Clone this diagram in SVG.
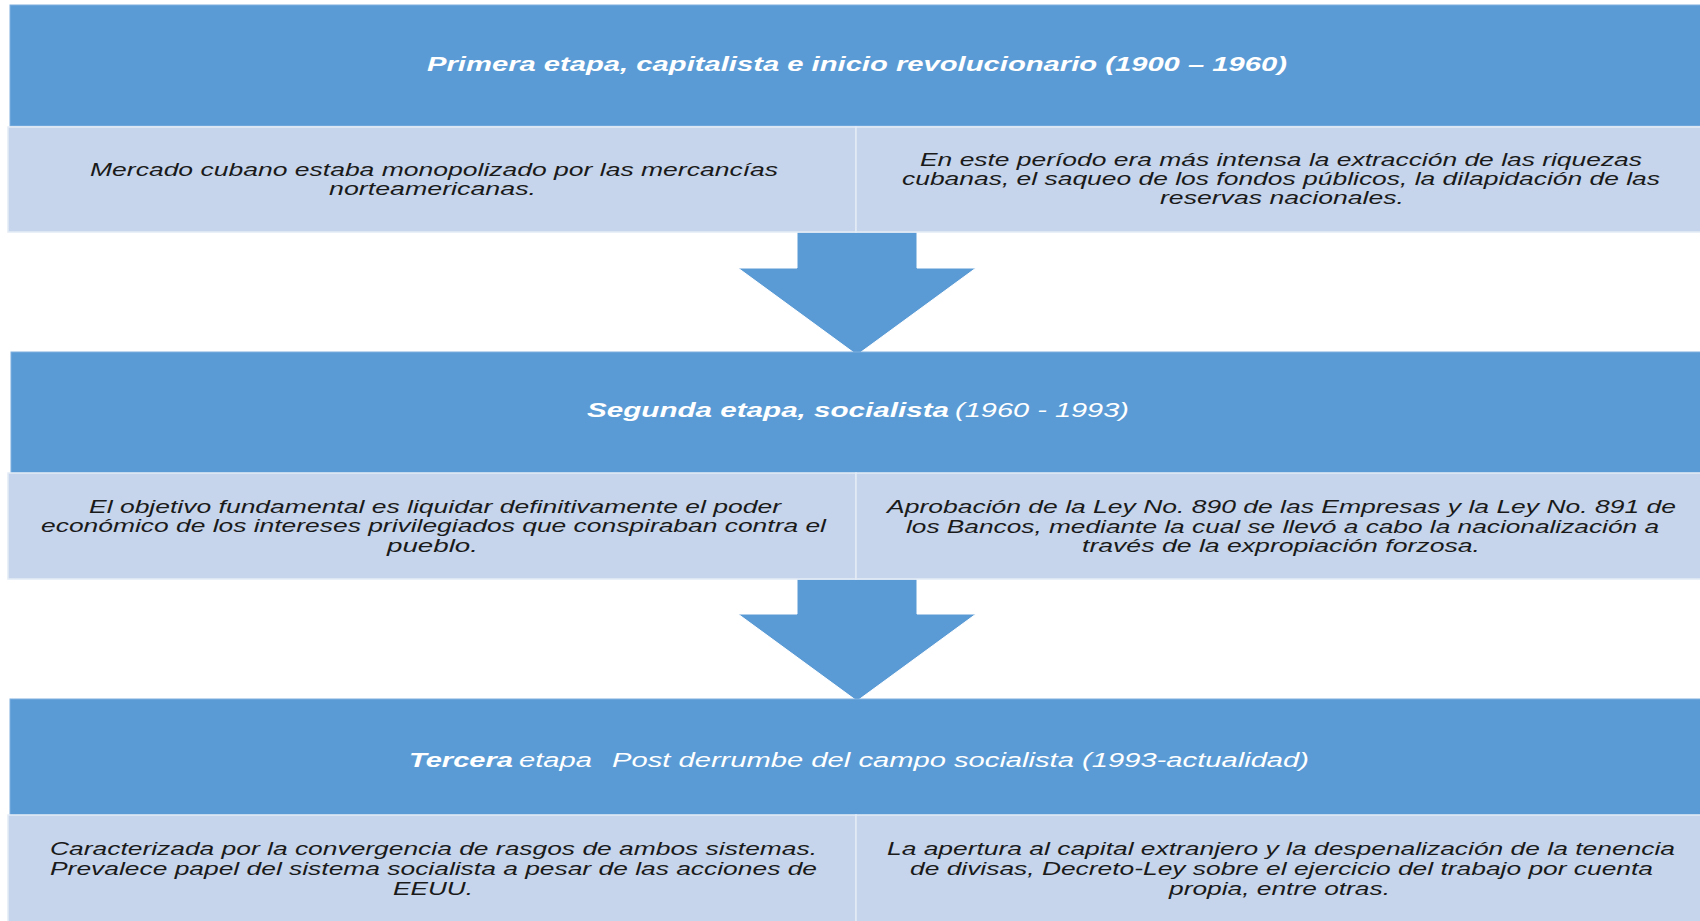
<svg xmlns="http://www.w3.org/2000/svg" width="1700" height="921" viewBox="0 0 1700 921">
  <style>
    .head { fill: #5B9BD5; stroke: #7FB0DE; stroke-width: 1; }
    .cell { fill: #C6D5EB; stroke: #E4ECF6; stroke-width: 1.5; }
    .arrow { fill: #5B9BD5; stroke: #FFFFFF; stroke-width: 1; }
    .title { font-family: "Liberation Sans", Arial, sans-serif; font-size: 20px; font-style: italic; fill: #FFFFFF; }
    .bold { font-weight: bold; }
    .body { font-family: "Liberation Sans", Arial, sans-serif; font-size: 18px; font-style: italic; fill: #1A1A1A; }
  </style>
  <rect width="1700" height="921" fill="#FFFFFF"/>

  <!-- down arrows between stages -->
  <g id="connectors">
    <path class="arrow" d="M797,232 H917 V268 H976 L857,355 L738,268 H797 Z"/>
    <path class="arrow" d="M797,579 H917 V614 H976 L857,701 L738,614 H797 Z"/>
  </g>

  <!-- stage 1 -->
  <g id="stage1">
    <rect class="head" x="10" y="5" width="1695" height="121"/>
    <text class="title bold" x="427" y="71" textLength="860" lengthAdjust="spacingAndGlyphs">Primera etapa, capitalista e inicio revolucionario (1900 – 1960)</text>
  </g>
  <g id="stage1-left">
    <rect class="cell" x="8" y="127" width="848" height="105"/>
    <text class="body" x="90" y="176" textLength="688" lengthAdjust="spacingAndGlyphs">Mercado cubano estaba monopolizado por las mercancías</text>
    <text class="body" x="329" y="195" textLength="207" lengthAdjust="spacingAndGlyphs">norteamericanas.</text>
  </g>
  <g id="stage1-right">
    <rect class="cell" x="856" y="127" width="850" height="105"/>
    <text class="body" x="920" y="166" textLength="722" lengthAdjust="spacingAndGlyphs">En este período era más intensa la extracción de las riquezas</text>
    <text class="body" x="902" y="185" textLength="758" lengthAdjust="spacingAndGlyphs">cubanas, el saqueo de los fondos públicos, la dilapidación de las</text>
    <text class="body" x="1160" y="204" textLength="244" lengthAdjust="spacingAndGlyphs">reservas nacionales.</text>
  </g>

  <!-- stage 2 -->
  <g id="stage2">
    <rect class="head" x="11" y="352" width="1694" height="121"/>
    <text class="title bold" x="587" y="417" textLength="362" lengthAdjust="spacingAndGlyphs">Segunda etapa, socialista</text>
    <text class="title" x="955" y="417" textLength="174" lengthAdjust="spacingAndGlyphs">(1960 - 1993)</text>
  </g>
  <g id="stage2-left">
    <rect class="cell" x="8" y="473" width="848" height="106"/>
    <text class="body" x="89" y="513" textLength="692" lengthAdjust="spacingAndGlyphs">El objetivo fundamental es liquidar definitivamente el poder</text>
    <text class="body" x="41" y="532" textLength="785" lengthAdjust="spacingAndGlyphs">económico de los intereses privilegiados que conspiraban contra el</text>
    <text class="body" x="387" y="552" textLength="91" lengthAdjust="spacingAndGlyphs">pueblo.</text>
  </g>
  <g id="stage2-right">
    <rect class="cell" x="856" y="473" width="850" height="106"/>
    <text class="body" x="887" y="513" textLength="789" lengthAdjust="spacingAndGlyphs">Aprobación de la Ley No. 890 de las Empresas y la Ley No. 891 de</text>
    <text class="body" x="906" y="533" textLength="753" lengthAdjust="spacingAndGlyphs">los Bancos, mediante la cual se llevó a cabo la nacionalización a</text>
    <text class="body" x="1082" y="552" textLength="398" lengthAdjust="spacingAndGlyphs">través de la expropiación forzosa.</text>
  </g>

  <!-- stage 3 -->
  <g id="stage3">
    <rect class="head" x="10" y="699" width="1695" height="116"/>
    <text class="title bold" x="409" y="767" textLength="104" lengthAdjust="spacingAndGlyphs">Tercera</text>
    <text class="title" x="519" y="767" textLength="73" lengthAdjust="spacingAndGlyphs">etapa</text>
    <text class="title" x="612" y="767" textLength="697" lengthAdjust="spacingAndGlyphs">Post derrumbe del campo socialista (1993-actualidad)</text>
  </g>
  <g id="stage3-left">
    <rect class="cell" x="8" y="815" width="848" height="110"/>
    <text class="body" x="50" y="855" textLength="767" lengthAdjust="spacingAndGlyphs">Caracterizada por la convergencia de rasgos de ambos sistemas.</text>
    <text class="body" x="50" y="875" textLength="767" lengthAdjust="spacingAndGlyphs">Prevalece papel del sistema socialista a pesar de las acciones de</text>
    <text class="body" x="393" y="895" textLength="80" lengthAdjust="spacingAndGlyphs">EEUU.</text>
  </g>
  <g id="stage3-right">
    <rect class="cell" x="856" y="815" width="850" height="110"/>
    <text class="body" x="887" y="855" textLength="788" lengthAdjust="spacingAndGlyphs">La apertura al capital extranjero y la despenalización de la tenencia</text>
    <text class="body" x="910" y="875" textLength="743" lengthAdjust="spacingAndGlyphs">de divisas, Decreto-Ley sobre el ejercicio del trabajo por cuenta</text>
    <text class="body" x="1169" y="895" textLength="221" lengthAdjust="spacingAndGlyphs">propia, entre otras.</text>
  </g>
</svg>
